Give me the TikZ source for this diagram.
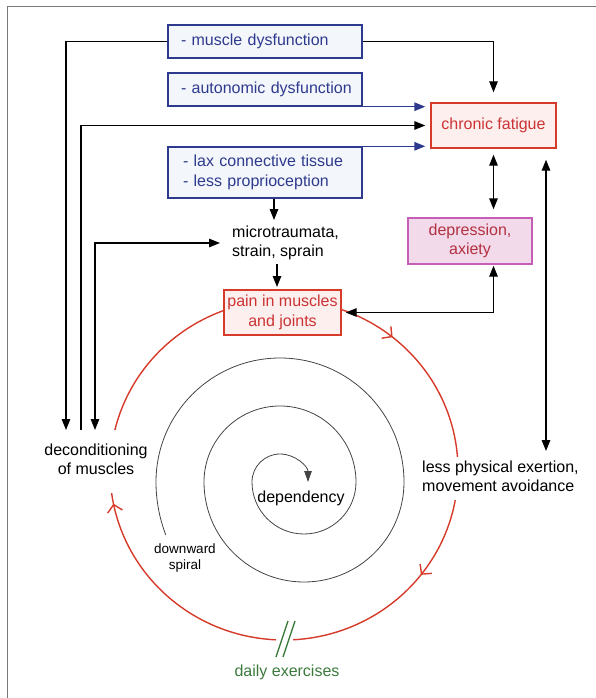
\documentclass[tikz,border=0pt]{standalone}
\usepackage{fontspec}
\setmainfont{Liberation Sans}
\usetikzlibrary{arrows.meta,decorations.markings,calc}
\definecolor{navy}{HTML}{2E3A8E}
\definecolor{bluefill}{HTML}{F3F6FB}
\definecolor{redline}{HTML}{D63B2A}
\definecolor{redtext}{HTML}{CC3333}
\definecolor{redfill}{HTML}{FCEFEE}
\definecolor{depline}{HTML}{C45EB6}
\definecolor{depfill}{HTML}{F2DAEB}
\definecolor{deptext}{HTML}{B3303F}
\definecolor{greenc}{HTML}{3C7A3C}
\definecolor{framec}{HTML}{7A7A7A}
\definecolor{spiralc}{HTML}{444444}
\begin{document}
\begin{tikzpicture}[x=1pt,y=1pt,
  fnt/.style={font=\fontsize{16pt}{19.5pt}\selectfont},
  txt/.style={fnt, inner sep=0pt},
  smalltxt/.style={font=\fontsize{13.5pt}{16pt}\selectfont, inner sep=0pt, align=center},
  bluebox/.style={fnt, draw=navy, fill=bluefill, line width=1.4pt, text=navy,
    minimum width=194pt, text width=174pt, inner xsep=10pt, inner ysep=2pt, align=left},
  redbox/.style={fnt, draw=redline, fill=redfill, line width=1.4pt, text=redtext,
    inner sep=2pt, align=center},
  depbox/.style={fnt, draw=depline, fill=depfill, line width=1.4pt, text=deptext,
    inner sep=2pt, align=center},
  arr/.style={line width=1.4pt, -{Triangle[length=11pt,width=8.5pt]}},
  dbl/.style={line width=1.4pt, {Triangle[length=11pt,width=8.5pt]}-{Triangle[length=11pt,width=8.5pt]}},
  bluearr/.style={line width=1.4pt, draw=navy, -{Triangle[length=11pt,width=8.5pt]}},
  cyc/.style={line width=1.4pt, draw=redline},
  barb/.style={postaction={decorate, decoration={markings,
    mark=at position #1 with {\arrow{Straight Barb[length=7pt,width=15pt]}}}}},
  spiral/.style={line width=0.8pt, draw=spiralc, -{Triangle[length=11pt,width=7.5pt]}},
]
\useasboundingbox (0,0) rectangle (596,-698);
% frame
\draw[framec, line width=1pt] (7,-698) -- (7,-7) -- (596,-7);

% red cycle
\coordinate (O) at (284,-470);
\draw[cyc, barb=0.712] ($(O)+(166.4:174pt and 170pt)$) arc[start angle=166.4, end angle=4.4, x radius=174pt, y radius=170pt];
\draw[cyc, barb=0.36] ($(O)+(-10.2:174pt and 170pt)$) arc[start angle=-10.2, end angle=-87.0, x radius=174pt, y radius=170pt];
\draw[cyc, barb=0.955] ($(O)+(267.4:174pt and 170pt)$) arc[start angle=267.4, end angle=187.8, x radius=174pt, y radius=170pt];
\draw[greenc, line width=1.4pt] (276,-657) -- (288,-621);
\draw[greenc, line width=1.4pt] (283,-657) -- (295,-621);

% spiral
\coordinate (B) at (304,-482);
\draw[spiral] ($(B)+(201:148pt)$) arc[start angle=201, end angle=180, radius=148pt]
  arc[start angle=180, end angle=0, radius=124pt]
  arc[start angle=0, end angle=-180, radius=100pt]
  arc[start angle=180, end angle=0, radius=76pt]
  arc[start angle=0, end angle=-180, radius=52pt]
  arc[start angle=180, end angle=0, radius=28pt];

% boxes
\node[bluebox, minimum height=33pt] (md) at (265,-41.5) {\hspace*{3pt}- muscle dysfunction};
\node[bluebox, minimum height=33pt] (ad) at (265,-89.5) {\hspace*{3pt}- autonomic dysfunction};
\node[bluebox, minimum height=51pt] (lax) at (265,-172.5) {\hspace*{5pt}- lax connective tissue\\\hspace*{5pt}- less proprioception};
\node[redbox, minimum width=125pt, minimum height=45pt] (cf) at (493.5,-125.5) {chronic fatigue};
\node[depbox, minimum width=124pt, minimum height=46pt] (dep) at (470,-241) {depression,\\axiety};
\node[redbox, minimum width=117pt, minimum height=45pt] (pain) at (282.5,-312.5) {pain in muscles\\and joints};

% texts
\node[txt, anchor=west, align=left] (micro) at (232,-243) {microtraumata,\\strain, sprain};
\node[txt, align=center] (decon) at (96,-459.5) {deconditioning\\of muscles};
\node[txt, anchor=west, align=left] (less) at (422,-476.5) {less physical exertion,\\movement avoidance};
\node[txt] (depy) at (301,-498) {dependency};
\node[smalltxt] (ds) at (185,-558) {downward\\spiral};
\node[txt, text=greenc] (daily) at (287,-672) {daily exercises};

% connector end coordinates
\coordinate (t1) at (66,-430);
\coordinate (t2) at (81,-430);
\coordinate (t3) at (95,-430);
\coordinate (mTip) at (274,-220);
\coordinate (pTip) at (277,-287);
\coordinate (lTip) at (546,-451);

% connectors
\draw[arr] (md.west) -| (t1);
\draw[arr, shorten >=5pt] (t2) |- (cf.west);
\draw[dbl, shorten >=12pt] (t3) |- (micro.west);
\draw[arr, shorten >=10pt] (md.east) -| (cf.north);
\draw[bluearr, shorten >=5pt] (ad.south east) -- (ad.south east -| cf.west);
\draw[bluearr, shorten >=5pt] (lax.north east) -- (lax.north east -| cf.west);
\draw[arr] (lax.south -| mTip) -- (mTip);
\draw[arr, shorten <=4pt] (micro.south -| pTip) -- (pTip);
\draw[dbl, shorten <=6pt, shorten >=8pt] (cf.south) -- (cf.south |- dep.north);
\draw[dbl, shorten <=1pt, shorten >=4pt] (cf.south |- dep.south) |- (pain.east);
\draw[dbl, shorten <=11pt] (cf.south -| lTip) -- (lTip);
\end{tikzpicture}
\end{document}
